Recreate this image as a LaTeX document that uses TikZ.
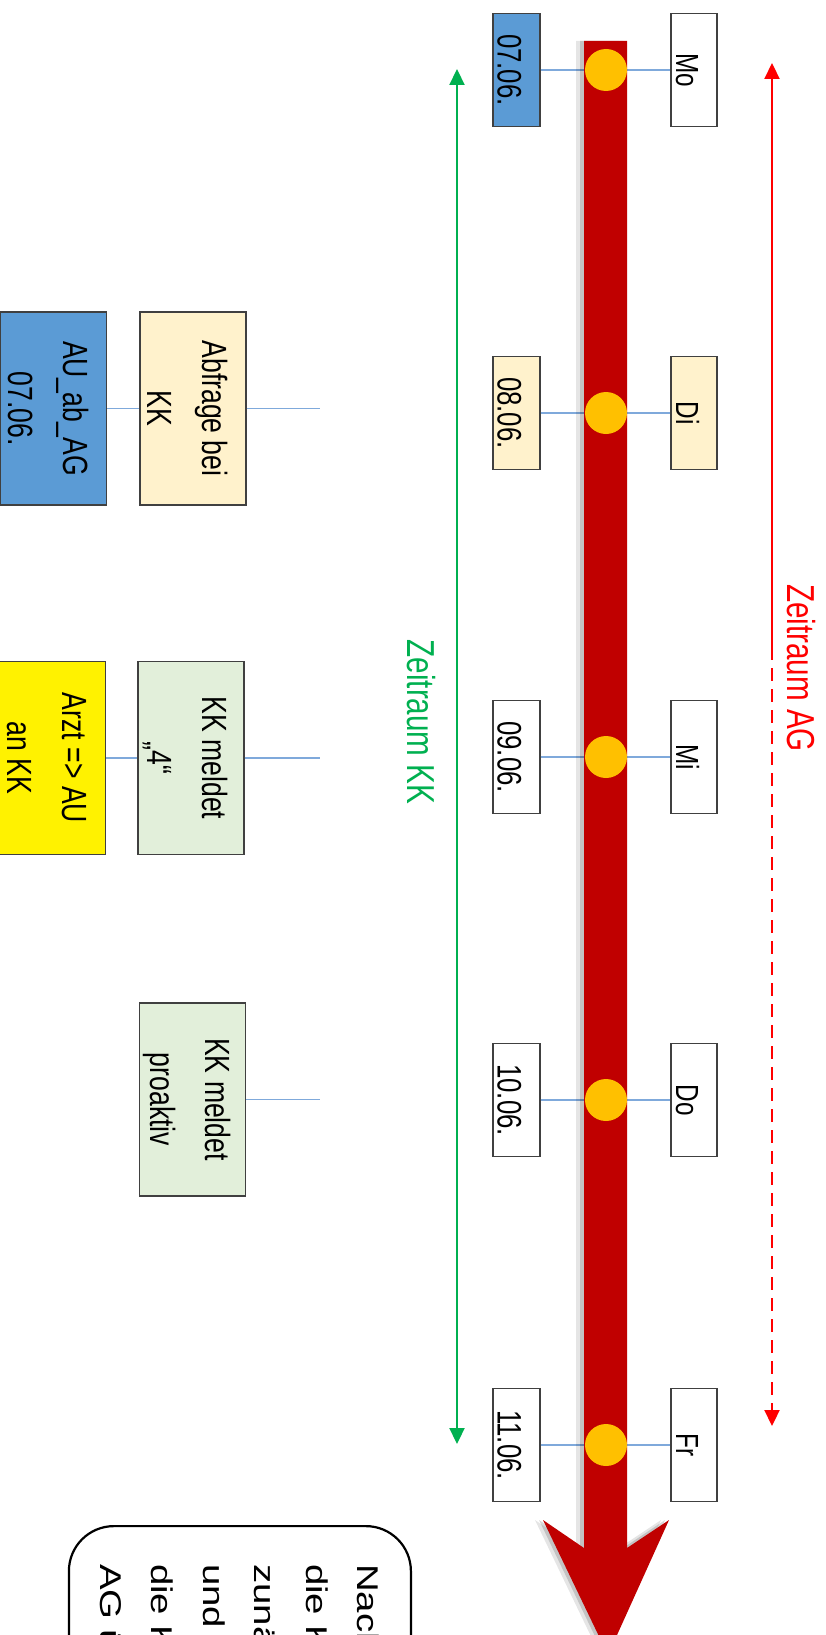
\documentclass[tikz,border=0pt]{standalone}
\usepackage{fontspec}
\setmainfont{Liberation Sans}[FakeStretch=0.76]
\newfontfamily\widefont{Liberation Sans}[FakeStretch=1.28]
\usetikzlibrary{arrows.meta}

\definecolor{kkblue}{HTML}{5B9BD5}
\definecolor{kkcream}{HTML}{FFF2CC}
\definecolor{kkmint}{HTML}{E2EFDA}
\definecolor{kkgold}{HTML}{FFC000}
\definecolor{kkbar}{HTML}{C00000}
\definecolor{kkgreen}{HTML}{00B050}
\definecolor{agred}{HTML}{FF0000}
\definecolor{kkline}{HTML}{7FA9DB}
\newcommand{\kkup}{\rule{0pt}{36pt}}

\begin{document}
\begin{tikzpicture}[x=1pt,y=-1pt,>={Triangle[length=16pt,width=15pt]}]
\tikzstyle{datum}=[draw=black!75,line width=1.2pt,rotate=-90,minimum width=113pt,minimum height=47pt,inner sep=0pt,text height=38pt,text depth=0pt,font=\fontsize{34}{40}\selectfont]
\tikzstyle{tag}=[datum,minimum height=46pt,text height=36pt,font=\fontsize{32}{38}\selectfont]
\tikzstyle{punkt}=[circle,fill=kkgold,minimum size=42pt,inner sep=0pt]
\tikzstyle{box}=[draw=black!75,line width=1.2pt,rotate=-90,minimum width=193pt,minimum height=106pt,inner sep=0pt,align=center,font=\fontsize{35}{55}\selectfont]
\tikzstyle{verb}=[draw=kkline,line width=1.3pt]
\useasboundingbox (0,0) rectangle (826,1635);

% dates and days
\node[datum,fill=kkblue] (d1) at (516.5,70) {07.06.};
\node[datum,fill=kkcream] (d2) at (516.5,413) {08.06.};
\node[datum,fill=white] (d3) at (516.5,757) {09.06.};
\node[datum,fill=white] (d4) at (516.5,1100) {10.06.};
\node[datum,fill=white] (d5) at (516.5,1445) {11.06.};
\node[tag,fill=white] (t1) at (694,70) {Mo};
\node[tag,fill=kkcream] (t2) at (694,413) {Di};
\node[tag,fill=white] (t3) at (694,757) {Mi};
\node[tag,fill=white] (t4) at (694,1100) {Do};
\node[tag,fill=white] (t5) at (694,1445) {Fr};
\draw[verb] (d1.north) -- (t1.south);
\draw[verb] (d2.north) -- (t2.south);
\draw[verb] (d3.north) -- (t3.south);
\draw[verb] (d4.north) -- (t4.south);
\draw[verb] (d5.north) -- (t5.south);

% time bar with shadow
\fill[black,opacity=0.10,xshift=-8pt] (584,41) -- (627,41) -- (627,1548) -- (669,1520) -- (608,1655) -- (543,1520) -- (584,1548) -- cycle;
\fill[black,opacity=0.15,xshift=-4pt] (584,41) -- (627,41) -- (627,1548) -- (669,1520) -- (608,1655) -- (543,1520) -- (584,1548) -- cycle;
\fill[kkbar] (584,41) -- (627,41) -- (627,1548) -- (669,1520) -- (608,1655) -- (543,1520) -- (584,1548) -- cycle;
\node[punkt] (c1) at (606,70) {};
\node[punkt] (c2) at (606,413) {};
\node[punkt] (c3) at (606,757) {};
\node[punkt] (c4) at (606,1100) {};
\node[punkt] (c5) at (606,1445) {};

% periods
\coordinate (kka) at (457,69);
\coordinate (kkb) at (457,1444);
\draw[<->,kkgreen,line width=2.2pt] (kka) -- (kkb);
\node[rotate=-90,text=kkgreen,font=\fontsize{39}{44}\selectfont] (kklab) at (421,722) {Zeitraum KK};
\coordinate (aga) at (772,63);
\coordinate (agm) at (772,647);
\coordinate (agb) at (772,1426);
\draw[->,agred,line width=2.2pt] (agm) -- (aga);
\draw[->,agred,line width=2.2pt,dash pattern=on 13pt off 8pt] (agm) -- (agb);
\node[rotate=-90,text=agred,font=\fontsize{39}{44}\selectfont] (aglab) at (801,668) {Zeitraum AG};

% steps
\node[box,fill=kkblue] (auag) at (53.5,408.5) {\kkup AU\_ab\_AG\\07.06.};
\node[box,fill=kkcream] (abfr) at (193,408.5) {\kkup Abfrage bei\\KK};
\node[box,fill=yellow] (arzt) at (52.5,758) {\kkup Arzt => AU\\an KK};
\node[box,fill=kkmint] (kk4) at (191,758) {\kkup KK meldet\\„4“};
\node[box,fill=kkmint] (kkpro) at (192.5,1099.5) {\kkup KK meldet\\proaktiv};
\coordinate (e1) at (320,408.5);
\coordinate (e2) at (320,758);
\coordinate (e3) at (320,1099.5);
\draw[verb] (auag.north) -- (abfr.south);
\draw[verb] (abfr.north) -- (e1);
\draw[verb] (arzt.north) -- (kk4.south);
\draw[verb] (kk4.north) -- (e2);
\draw[verb] (kkpro.north) -- (e3);

% note
\node[draw=black,line width=2.2pt,rounded corners=45pt,rotate=-90,anchor=north west,minimum height=342pt,text width=260pt,inner xsep=38pt,inner ysep=0pt,align=left,font=\widefont\fontsize{30}{51.5}\selectfont] (hint) at (412,1525) {Nach\\die K\\zunä\\und n\\die K\\AG ü};
\end{tikzpicture}
\end{document}
